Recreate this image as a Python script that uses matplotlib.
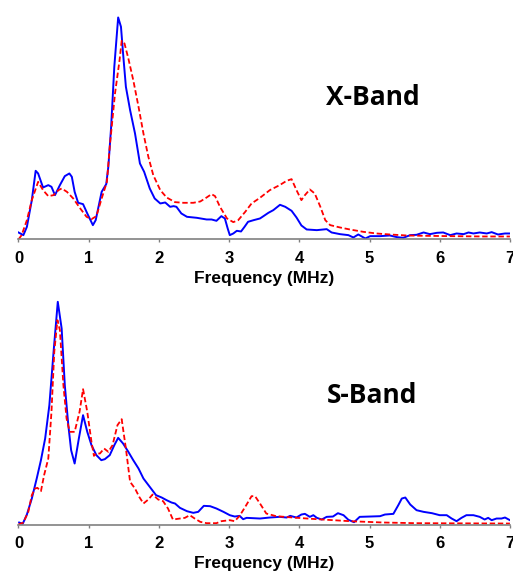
"""
Frequency spectra for the X-band and S-band cases (blue: solid, red: dashed).
"""

import matplotlib.pyplot as plt

# x-band, blue trace (frequency in MHz, amplitude in arbitrary units)
x_blue_f = [0.0, 0.07, 0.12, 0.19, 0.245, 0.28, 0.35, 0.425, 0.47, 0.52, 0.59,
            0.66, 0.725, 0.76, 0.80, 0.85, 0.92, 0.98, 1.06, 1.10, 1.15, 1.185,
            1.25, 1.28, 1.32, 1.365, 1.42, 1.46, 1.49, 1.53, 1.59, 1.66, 1.73,
            1.79, 1.87, 1.94, 2.02, 2.09, 2.16, 2.21, 2.25, 2.32, 2.40, 2.54,
            2.68, 2.75, 2.82, 2.89, 2.94, 2.98, 3.01, 3.06, 3.11, 3.17, 3.22,
            3.27, 3.35, 3.44, 3.49, 3.56, 3.63, 3.725, 3.80, 3.89, 3.96, 4.03,
            4.105, 4.25, 4.39, 4.46, 4.58, 4.70, 4.77, 4.84, 4.94, 5.01, 5.15,
            5.29, 5.39, 5.48, 5.58, 5.67, 5.77, 5.86, 5.96, 6.05, 6.15, 6.24,
            6.34, 6.41, 6.48, 6.57, 6.67, 6.74, 6.83, 6.93, 7.0]
x_blue_a = [21, 13, 38, 118, 206, 198, 156, 163, 158, 133, 163,
            190, 198, 188, 143, 110, 106, 78, 43, 58, 108, 143,
            166, 218, 338, 518, 666, 638, 558, 458, 388, 318, 228,
            203, 153, 123, 108, 111, 98, 100, 98, 78, 68, 65,
            60, 60, 56, 70, 63, 33, 13, 18, 26, 24, 38,
            53, 58, 63, 70, 80, 88, 104, 98, 86, 66, 42,
            30, 28, 31, 21, 16, 13, 6, 15, 3, 10, 10,
            12, 7, 5, 13, 14, 21, 16, 20, 21, 13, 18,
            16, 21, 18, 21, 18, 22, 15, 18, 18]

# x-band, red trace
x_red_f = [0.0, 0.045, 0.12, 0.19, 0.28, 0.35, 0.425, 0.50, 0.57, 0.615, 0.69,
           0.78, 0.88, 0.97, 1.04, 1.11, 1.185, 1.26, 1.30, 1.375, 1.44, 1.47,
           1.51, 1.565, 1.635, 1.71, 1.78, 1.85, 1.92, 2.02, 2.11, 2.23, 2.35,
           2.49, 2.59, 2.68, 2.75, 2.80, 2.87, 2.97, 3.06, 3.13, 3.23, 3.32,
           3.44, 3.58, 3.72, 3.82, 3.89, 3.96, 4.03, 4.08, 4.15, 4.22, 4.30,
           4.37, 4.44, 4.58, 4.72, 4.91, 5.10, 5.29, 5.53, 5.77, 6.15, 6.62, 7.0]
x_red_a = [0, 13, 58, 118, 173, 148, 130, 133, 148, 153, 143,
           123, 93, 68, 61, 70, 123, 173, 278, 438, 538, 596,
           588, 543, 478, 398, 318, 248, 193, 148, 126, 112, 110,
           110, 114, 126, 136, 130, 98, 63, 52, 58, 83, 108,
           125, 148, 163, 176, 181, 148, 118, 133, 150, 138, 98,
           58, 43, 36, 30, 23, 18, 15, 12, 11, 10, 9, 9]

# s-band, blue trace
s_blue_f = [0.01, 0.06, 0.12, 0.19, 0.26, 0.32, 0.38, 0.44, 0.50, 0.56, 0.615,
            0.66, 0.71, 0.75, 0.80, 0.86, 0.92, 0.98, 1.04, 1.11, 1.18, 1.23,
            1.30, 1.365, 1.42, 1.49, 1.565, 1.635, 1.71, 1.78, 1.87, 1.96, 2.04,
            2.11, 2.18, 2.23, 2.30, 2.40, 2.49, 2.56, 2.64, 2.73, 2.82, 2.92,
            3.01, 3.08, 3.15, 3.20, 3.25, 3.44, 3.58, 3.72, 3.82, 3.87, 3.96,
            4.03, 4.08, 4.15, 4.20, 4.25, 4.32, 4.39, 4.48, 4.55, 4.63, 4.70,
            4.78, 4.86, 5.01, 5.15, 5.22, 5.34, 5.41, 5.46, 5.51, 5.58, 5.67,
            5.77, 5.89, 6.00, 6.10, 6.17, 6.24, 6.31, 6.38, 6.48, 6.57, 6.64,
            6.69, 6.74, 6.81, 6.88, 6.93, 7.0]
s_blue_a = [6, 2, 30, 78, 138, 193, 258, 358, 518, 668, 588,
            418, 298, 223, 183, 258, 328, 278, 238, 208, 193, 196,
            208, 238, 260, 243, 218, 193, 168, 138, 113, 88, 81,
            73, 66, 63, 50, 40, 35, 38, 56, 55, 48, 38,
            28, 24, 26, 16, 20, 18, 21, 23, 21, 26, 21,
            30, 32, 23, 28, 20, 15, 23, 24, 34, 28, 14,
            7, 23, 24, 25, 30, 32, 58, 78, 81, 60, 43,
            38, 34, 28, 28, 18, 10, 20, 28, 28, 23, 15,
            20, 13, 18, 18, 21, 13]

# s-band, red trace
s_red_f = [0.0, 0.07, 0.14, 0.19, 0.235, 0.27, 0.32, 0.365, 0.425, 0.47, 0.51,
           0.555, 0.59, 0.64, 0.685, 0.73, 0.80, 0.87, 0.92, 0.98, 1.04, 1.075,
           1.11, 1.16, 1.22, 1.28, 1.34, 1.41, 1.47, 1.53, 1.59, 1.66, 1.72,
           1.78, 1.85, 1.91, 1.99, 2.06, 2.13, 2.20, 2.30, 2.37, 2.44, 2.51,
           2.59, 2.68, 2.82, 2.89, 3.01, 3.08, 3.15, 3.23, 3.32, 3.37, 3.44,
           3.53, 3.67, 3.91, 4.25, 4.72, 5.20, 5.67, 7.0]
s_red_a = [0, 6, 38, 88, 108, 110, 100, 148, 198, 338, 518,
           613, 583, 418, 318, 278, 278, 338, 406, 338, 248, 206,
           213, 213, 228, 218, 238, 298, 316, 228, 128, 108, 83,
           63, 75, 90, 75, 70, 48, 15, 18, 20, 28, 18,
           8, 4, 4, 10, 13, 10, 26, 53, 85, 85, 63,
           33, 25, 21, 16, 10, 6, 4, 3]

ticks = [0, 1, 2, 3, 4, 5, 6, 7]
panels = [
    ("X-Band", 0.609, x_blue_f, x_blue_a, x_red_f, x_red_a),
    ("S-Band", 0.555, s_blue_f, s_blue_a, s_red_f, s_red_a),
]

fig = plt.figure(figsize=(5.13, 5.71), dpi=100)
plt.rcParams["font.family"] = ["Liberation Sans", "DejaVu Sans"]

# axes boxes in figure fractions: [left, bottom, width, height]
boxes = [[0.036, 0.5806, 0.958, 0.4087], [0.036, 0.0814, 0.958, 0.4087]]

for box, (name, name_y, bf, ba, rf, ra) in zip(boxes, panels):
    ax = fig.add_axes(box)
    ax.plot(bf, ba, color="#0000ff", lw=1.4)
    ax.plot(rf, ra, color="#ff0000", lw=1.3, ls=(0, (3, 1.5)))
    ax.set_xlim(0, 7)
    ax.set_ylim(0, 700)
    for side in ["top", "right", "left"]:
        ax.spines[side].set_visible(False)
    ax.spines["bottom"].set_color("#808080")
    ax.spines["bottom"].set_linewidth(1.2)
    ax.set_yticks([])
    ax.set_xticks(ticks)
    ax.set_xticklabels([str(t) for t in ticks], fontsize=12, fontweight="bold")
    ax.tick_params(axis="x", length=2.5, width=1, color="#808080", pad=5.5)
    ax.set_xlabel("Frequency (MHz)", fontsize=12.5, fontweight="bold",
                  labelpad=4)
    # band name, placed inside the panel
    ax.text(0.72, name_y, name, transform=ax.transAxes, ha="center",
            va="center", fontsize=19, fontweight="bold", family="Open Sans")

fig.savefig("out.png", dpi=100)
